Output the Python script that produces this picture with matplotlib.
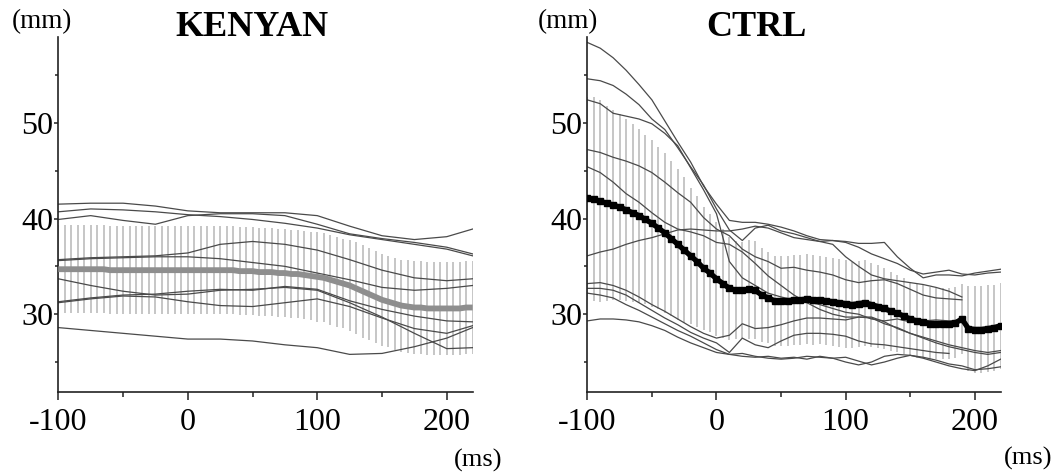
import numpy as np
import matplotlib
matplotlib.use("Agg")
import matplotlib.pyplot as plt

plt.rcParams['font.family'] = ['Liberation Serif', 'DejaVu Serif']

# ---- data (mm vs ms) ----
# KENYAN individual traces, sampled every 25 ms
t_kenyan = [-100, -75, -50, -25, 0, 25, 50, 75, 100, 125, 150, 175, 200, 220]
kenyan_1 = [41.5, 41.6, 41.6, 41.3, 40.8, 40.6, 40.6, 40.6, 40.3, 39.2, 38.2, 37.8, 38.1, 38.9]
kenyan_2 = [40.7, 41.0, 40.9, 40.7, 40.4, 40.2, 39.9, 39.5, 39.0, 38.3, 37.8, 37.3, 36.8, 36.1]
kenyan_3 = [39.9, 40.3, 39.8, 39.4, 40.3, 40.5, 40.5, 40.3, 39.4, 38.4, 37.9, 37.5, 37.0, 36.3]
kenyan_4 = [35.7, 35.9, 36.0, 36.1, 36.4, 37.3, 37.6, 37.3, 36.7, 35.7, 34.6, 33.8, 33.5, 33.7]
kenyan_5 = [35.6, 35.8, 35.9, 36.0, 36.0, 35.8, 35.4, 35.0, 34.3, 33.6, 32.8, 32.5, 32.7, 33.0]
kenyan_6 = [33.7, 33.0, 32.4, 32.0, 32.1, 32.5, 32.6, 32.8, 32.5, 31.2, 29.7, 28.0, 26.4, 26.5]
kenyan_7 = [31.3, 31.7, 32.0, 32.1, 32.4, 32.6, 32.5, 32.9, 32.6, 31.4, 30.5, 29.8, 29.3, 29.2]
kenyan_8 = [31.2, 31.6, 31.9, 31.8, 31.3, 30.9, 30.8, 31.2, 31.6, 30.8, 29.6, 28.5, 28.0, 28.8]
kenyan_9 = [28.6, 28.3, 28.0, 27.7, 27.4, 27.4, 27.2, 26.8, 26.5, 25.8, 25.9, 26.6, 27.5, 28.6]
kenyan_traces = [kenyan_1, kenyan_2, kenyan_3, kenyan_4, kenyan_5,
                 kenyan_6, kenyan_7, kenyan_8, kenyan_9]

# CTRL individual traces, sampled every 10 ms (None = trace already ended)
t_ctrl = np.arange(-100, 221, 10)
ctrl_1 = [58.4, 57.8, 56.8, 55.5, 54.0, 52.4, 50.2, 48.0, 45.9, 43.4, 41.5, 39.8, 39.6, 39.6, 39.4, 39.1, 38.7,
          38.2, 37.8, 37.7, 37.6, 37.4, 37.4, 37.5, 36.0, 34.8, 33.8, 34.1, 34.1, 34.0, 34.3, 34.5, 34.7]
ctrl_2 = [54.6, 54.4, 53.9, 53.0, 51.9, 50.4, 49.3, 47.4, 45.4, 43.5, 41.0, 38.8, 37.7, 39.0, 39.3, 38.7, 38.4,
          38.0, 37.6, 37.3, 36.0, 35.0, 34.1, 33.7, 33.5, 33.3, 33.1, 32.8, 32.4, 31.8, None, None, None]
ctrl_3 = [52.4, 52.0, 51.0, 50.7, 50.4, 49.9, 48.9, 47.6, 45.3, 43.0, 40.5, 35.5, 33.8, 33.0, 32.2, 31.8, 31.5,
          31.3, 31.0, 30.6, 30.2, 30.0, 29.5, 29.3, 29.5, 29.2, 29.3, 29.4, 29.3, 29.3, None, None, None]
ctrl_4 = [47.2, 46.9, 46.4, 46.0, 45.5, 44.8, 43.8, 42.7, 41.7, 40.1, 38.9, 38.2, 36.8, 36.0, 35.5, 34.8, 34.9,
          34.6, 34.4, 34.1, 33.6, 33.3, 33.5, 33.6, 33.2, 32.6, 32.0, 31.7, 31.6, 31.5, None, None, None]
ctrl_5 = [45.4, 44.8, 43.8, 42.6, 41.7, 40.6, 39.6, 38.9, 38.6, 38.2, 37.5, 37.3, 36.5, 35.3, 34.0, 33.0, 32.0,
          31.2, 30.5, 30.0, 29.7, 29.7, 29.6, 29.0, 28.6, 28.0, 27.6, 27.2, 26.8, 26.5, 26.2, 26.0, 26.2]
ctrl_6 = [36.1, 36.5, 36.8, 37.3, 37.7, 38.0, 38.4, 38.8, 38.9, 38.8, 38.7, 38.7, 38.9, 39.2, 39.0, 38.5, 38.0,
          37.8, 37.6, 37.7, 37.5, 37.0, 36.3, 35.8, 35.3, 34.6, 34.2, 34.4, 34.6, 34.2, 34.1, 34.3, 34.4]
ctrl_7 = [33.2, 33.3, 33.0, 32.5, 31.8, 31.0, 30.3, 29.5, 28.7, 28.0, 27.5, 27.8, 29.0, 28.5, 28.6, 28.9, 29.3,
          29.6, 29.6, 29.5, 29.4, 29.7, 29.7, 29.2, 28.5, 28.0, 27.5, 27.0, 26.6, 26.3, 26.0, 25.8, 26.0]
ctrl_8 = [32.7, 32.7, 32.5, 32.0, 31.2, 30.4, 29.6, 28.9, 28.1, 27.5, 27.0, 26.0, 27.5, 26.8, 26.5, 27.2, 27.8,
          28.0, 28.0, 27.9, 27.7, 27.2, 26.9, 26.8, 26.6, 26.4, 26.2, 26.0, 25.9, None, None, None, None]
ctrl_9 = [32.2, 32.0, 31.7, 31.0, 30.4, 29.7, 29.0, 28.3, 27.7, 27.0, 26.3, 25.8, 25.9, 25.6, 25.4, 25.3, 25.4,
          25.6, 25.5, 25.4, 25.5, 25.1, 24.7, 25.0, 25.4, 25.7, 25.5, 25.2, 24.8, 24.6, 24.2, 24.3, 24.5]
ctrl_10 = [29.3, 29.5, 29.5, 29.4, 29.2, 28.8, 28.3, 27.6, 27.0, 26.5, 26.0, 25.8, 25.6, 25.5, 25.6, 25.4, 25.5,
           25.3, 25.6, 25.4, 25.0, 24.7, 25.0, 25.6, 25.8, 25.7, 25.4, 25.0, 24.6, 24.3, 24.1, 24.6, 25.3]
ctrl_traces = [ctrl_1, ctrl_2, ctrl_3, ctrl_4, ctrl_5, ctrl_6, ctrl_7, ctrl_8, ctrl_9, ctrl_10]

# group mean and SD, every 5 ms from -100 to 220
t_mean = np.arange(-100, 221, 5)
kenyan_mean = [34.7, 34.7, 34.7, 34.7, 34.7, 34.7, 34.7, 34.7, 34.6, 34.6,
               34.6, 34.6, 34.6, 34.6, 34.6, 34.6, 34.6, 34.6, 34.6, 34.6,
               34.6, 34.6, 34.6, 34.6, 34.6, 34.6, 34.6, 34.6, 34.5, 34.5,
               34.5, 34.4, 34.4, 34.4, 34.3, 34.3, 34.2, 34.2, 34.1, 34.0,
               33.9, 33.8, 33.6, 33.4, 33.2, 33.0, 32.7, 32.4, 32.1, 31.8,
               31.5, 31.3, 31.1, 30.9, 30.8, 30.7, 30.7, 30.6, 30.6, 30.6,
               30.6, 30.6, 30.6, 30.7, 30.7]
kenyan_sd = [4.6, 4.6, 4.6, 4.6, 4.6, 4.6, 4.6, 4.6, 4.6, 4.6,
             4.6, 4.6, 4.6, 4.6, 4.6, 4.6, 4.6, 4.6, 4.6, 4.6,
             4.6, 4.6, 4.6, 4.6, 4.6, 4.6, 4.6, 4.6, 4.6, 4.6,
             4.6, 4.6, 4.6, 4.6, 4.6, 4.6, 4.6, 4.6, 4.6, 4.6,
             4.7, 4.65, 4.7, 4.7, 4.65, 4.75, 4.8, 4.85, 4.8, 4.8,
             4.8, 4.75, 4.8, 4.8, 4.9, 4.9, 4.9, 4.9, 4.9, 4.9,
             4.9, 4.9, 4.9, 4.9, 4.9]
ctrl_mean = [42.1, 42.0, 41.8, 41.6, 41.4, 41.2, 40.9, 40.6, 40.3, 39.9,
             39.5, 39.0, 38.5, 37.9, 37.3, 36.7, 36.1, 35.5, 34.8, 34.3,
             33.7, 33.2, 32.7, 32.5, 32.5, 32.6, 32.5, 32.0, 31.7, 31.4,
             31.4, 31.4, 31.5, 31.5, 31.6, 31.5, 31.5, 31.4, 31.3, 31.2,
             31.1, 31.0, 31.1, 31.2, 31.0, 30.8, 30.6, 30.3, 30.1, 29.8,
             29.5, 29.3, 29.2, 29.0, 29.0, 29.0, 29.0, 29.1, 29.5, 28.5,
             28.4, 28.4, 28.5, 28.6, 28.8]
ctrl_sd = [10.65, 10.65, 10.55, 10.2, 9.95, 9.7, 9.55, 9.3, 9.1, 8.85,
           8.7, 8.5, 8.35, 8.1, 7.9, 7.65, 7.1, 6.8, 6.4, 6.15,
           5.95, 5.7, 5.4, 5.1, 5.0, 5.2, 5.1, 4.9, 4.75, 4.7,
           4.7, 4.7, 4.7, 4.7, 4.7, 4.7, 4.6, 4.6, 4.6, 4.6,
           4.6, 4.5, 4.5, 4.5, 4.4, 4.3, 4.2, 4.1, 4.0, 4.0,
           3.9, 3.9, 3.8, 3.8, 3.7, 3.7, 3.7, 3.7, 3.7, 4.4,
           4.5, 4.5, 4.5, 4.5, 4.5]

x_ticks = [-100, 0, 100, 200]
x_ticklabels = ['-100', '0', '100', '200']
y_ticks = [30, 40, 50]
y_ticklabels = ['30', '40', '50']

W, H = 1059, 474
fig = plt.figure(figsize=(W / 100, H / 100), dpi=100)
ax_k = fig.add_axes([58.3 / W, 1 - 391.7 / H, 415 / W, 355 / H])
ax_c = fig.add_axes([587.3 / W, 1 - 391.7 / H, 414 / W, 355 / H])


def style_axis(ax):
    ax.set_xlim(-100, 220.5)
    ax.set_ylim(21.9, 59.0)
    for side in ['top', 'right']:
        ax.spines[side].set_visible(False)
    for side in ['left', 'bottom']:
        ax.spines[side].set_linewidth(1.2)
        ax.spines[side].set_color('#222222')
    ax.set_xticks(x_ticks)
    ax.set_xticklabels(x_ticklabels)
    ax.set_xticks([-50, 50, 150], minor=True)
    ax.set_yticks(y_ticks)
    ax.set_yticklabels(y_ticklabels)
    ax.set_yticks([25, 35, 45, 55], minor=True)
    ax.tick_params(axis='x', which='major', length=6, width=1.1, pad=6, labelsize=23, colors='#222222')
    ax.tick_params(axis='x', which='minor', length=3.5, width=1.1, colors='#222222')
    ax.tick_params(axis='y', which='major', length=3, width=1.1, pad=0.5, labelsize=23, colors='#222222')
    ax.tick_params(axis='y', which='minor', length=2.5, width=1.1, colors='#222222')
    for lab in ax.get_xticklabels() + ax.get_yticklabels():
        lab.set_color('black')


# KENYAN panel
km = np.array(kenyan_mean)
ksd = np.array(kenyan_sd)
ax_k.vlines(t_mean, km - ksd, km + ksd, colors='#c2c2c2', linewidth=1.3, zorder=1)
for tr in kenyan_traces:
    ax_k.plot(t_kenyan, tr, color='#4a4a4a', linewidth=0.9, zorder=2)
ax_k.plot(t_mean, km, color='#8e8e8e', linewidth=4.2, solid_capstyle='butt', zorder=3)
style_axis(ax_k)

# CTRL panel
cm = np.array(ctrl_mean)
csd = np.array(ctrl_sd)
ax_c.vlines(t_mean, cm - csd, cm + csd, colors='#c2c2c2', linewidth=1.3, zorder=1)
for tr in ctrl_traces:
    ax_c.plot(t_ctrl, np.array(tr, dtype=float), color='#4a4a4a', linewidth=0.9, zorder=2)
ax_c.plot(t_mean, cm, color='black', linewidth=3.8, marker='s', markersize=4,
          solid_capstyle='butt', zorder=3)
style_axis(ax_c)

# titles and unit labels
fig.text(252 / W, 1 - 36 / H, 'KENYAN', fontsize=26, fontweight='bold', ha='center', va='baseline')
fig.text(756 / W, 1 - 36 / H, 'CTRL', fontsize=26, fontweight='bold', ha='center', va='baseline')
fig.text(42 / W, 1 - 22 / H, '(mm)', fontsize=19.5, ha='center', va='center')
fig.text(568 / W, 1 - 22 / H, '(mm)', fontsize=19.5, ha='center', va='center')
fig.text(478 / W, 1 - 460 / H, '(ms)', fontsize=19, ha='center', va='center')
fig.text(1028 / W, 1 - 458 / H, '(ms)', fontsize=19, ha='center', va='center')

fig.savefig('out.png', dpi=100)
